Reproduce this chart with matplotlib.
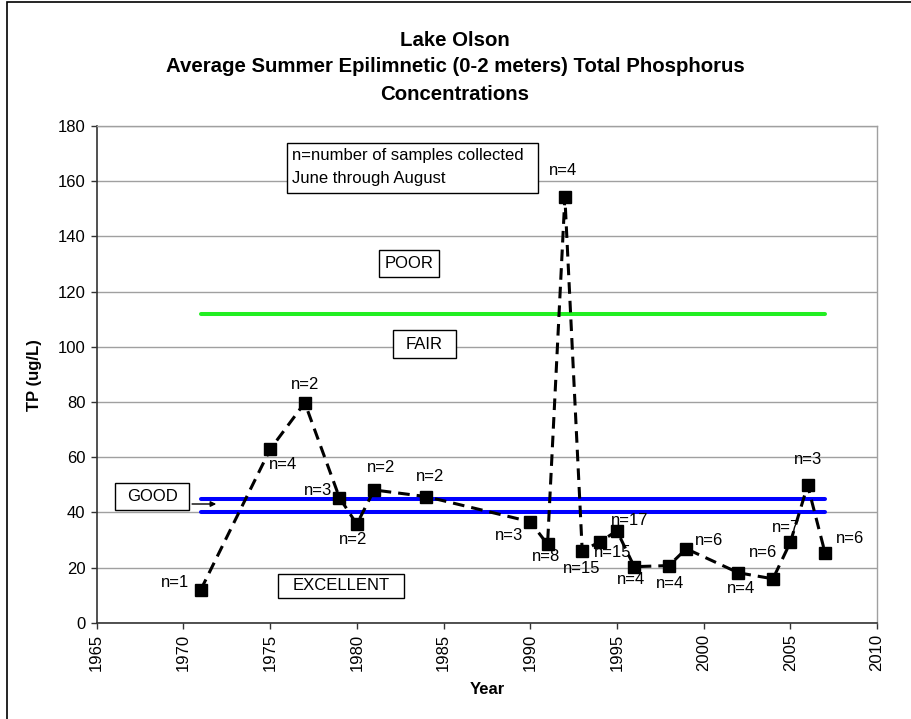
import matplotlib
matplotlib.use('Agg')
import matplotlib.pyplot as plt
from matplotlib.patches import Rectangle

plt.rcParams['font.family'] = ['Liberation Sans', 'DejaVu Sans']

# ---- data ----
years = [1971, 1975, 1977, 1979, 1980, 1981, 1984, 1990, 1991, 1992, 1993,
         1994, 1995, 1996, 1998, 1999, 2002, 2004, 2005, 2006, 2007]
tp = [11.9, 62.8, 79.7, 45.3, 35.7, 48.1, 45.7, 36.6, 28.4, 154.2, 26.1,
      29.2, 33.3, 20.3, 20.7, 26.8, 18.1, 15.9, 29.1, 49.8, 25.4]
n_samples = [1, 4, 2, 3, 2, 2, 2, 3, 8, 4, 15, 15, 17, 4, 4, 6, 4, 6, 7, 3, 6]

fair_poor_limit = 112
good_upper = 45
good_lower = 40
limit_years = [1971, 2007]

x_ticks = list(range(1965, 2011, 5))
y_ticks = list(range(0, 181, 20))

title_lines = ["Lake Olson",
               "Average Summer Epilimnetic (0-2 meters) Total Phosphorus",
               "Concentrations"]

# label offsets in pixels (dx right, dy down)
label_offsets = [(-26, -7), (13, 15), (0, -18), (-21, -7), (-4, 15), (7, -22),
                 (4, -20), (-21, 14), (-1, 12), (-2, -27), (-1, 18), (13, 10),
                 (13, -10), (-3, 13), (1, 18), (23, -8), (3, 16), (-10, -26),
                 (-4, -15), (0, -26), (25, -14)]

W, H = 912, 719
fig = plt.figure(figsize=(W / 100, H / 100), dpi=100)

# outer border
fig.patches.append(Rectangle((7 / W, -0.05), 1.2, 1 - 2 / H + 0.05,
                             transform=fig.transFigure, fill=False,
                             edgecolor='black', lw=1.2))

x0, x1, ytop, ybot = 96.7, 877, 126, 622.7
ax = fig.add_axes([x0 / W, 1 - ybot / H, (x1 - x0) / W, (ybot - ytop) / H])
ax.set_xlim(1965, 2010)
ax.set_ylim(0, 180)
ax.set_xticks(x_ticks)
ax.set_yticks(y_ticks)
ax.set_xticklabels([str(t) for t in x_ticks], rotation=90)
ax.grid(axis='y', color='#a0a0a0', lw=1)
ax.set_axisbelow(True)
ax.tick_params(direction='out', length=4, width=1, labelsize=12, pad=4,
               color='#333333')
for s in ['left', 'bottom']:
    ax.spines[s].set_color('#333333')
    ax.spines[s].set_linewidth(1.2)
for s in ['top', 'right']:
    ax.spines[s].set_color('#a0a0a0')
    ax.spines[s].set_linewidth(1)

# threshold lines
ax.plot(limit_years, [fair_poor_limit] * 2, color='#22ee22', lw=2.9,
        solid_capstyle='round', zorder=3)
ax.plot(limit_years, [good_upper] * 2, color='#0000ff', lw=2.9,
        solid_capstyle='round', zorder=3)
ax.plot(limit_years, [good_lower] * 2, color='#0000ff', lw=2.9,
        solid_capstyle='round', zorder=3)

# data series
ax.plot(years, tp, color='black', lw=2.2, dashes=(3.8, 2.3), marker='s',
        ms=8.5, mfc='black', mec='black', zorder=5)

for yr, v, n, (dx, dy) in zip(years, tp, n_samples, label_offsets):
    ax.annotate(f"n={n}", (yr, v), xytext=(dx, -dy), textcoords='offset pixels',
                ha='center', va='center', fontsize=12, zorder=6)


def px2data(px, py):
    return (1965 + (px - x0) / (x1 - x0) * 45, (ybot - py) / (ybot - ytop) * 180)


def box(l, t, r, b):
    (dl, dt), (dr, db) = px2data(l, t), px2data(r, b)
    ax.add_patch(Rectangle((dl, db), dr - dl, dt - db, facecolor='white',
                           edgecolor='black', lw=1, zorder=7))


def label(px, py, s, ha='center'):
    dx, dy = px2data(px, py)
    ax.text(dx, dy, s, ha=ha, va='center', fontsize=12, zorder=8)


box(287.3, 143.3, 538.3, 192.7)
label(291.7, 155.5, "n=number of samples collected", ha='left')
label(291.7, 178.3, "June through August", ha='left')
box(379, 250, 439.3, 276.7)
label(409, 263.5, "POOR")
box(392.7, 330, 456, 358.3)
label(424.3, 344, "FAIR")
box(115, 483.3, 189.3, 510)
label(152, 496.7, "GOOD")
box(277.7, 574, 404.3, 598)
label(341, 586, "EXCELLENT")

a0 = px2data(189.3, 504)
a1 = px2data(219, 504)
ax.annotate("", xy=a1, xytext=a0,
            arrowprops=dict(arrowstyle='-|>', color='black', lw=1,
                            mutation_scale=8), zorder=8)

for i, (t, py) in enumerate(zip(title_lines, [40, 67, 95])):
    fig.text(455 / W, 1 - py / H, t, ha='center', va='center',
             fontsize=14.7, fontweight='bold')

fig.text(35 / W, 1 - 375 / H, "TP (ug/L)", rotation=90, ha='center',
         va='center', fontsize=12, fontweight='bold')
fig.text(487 / W, 1 - 690 / H, "Year", ha='center', va='center',
         fontsize=12, fontweight='bold')

fig.savefig('out.png', dpi=100)
